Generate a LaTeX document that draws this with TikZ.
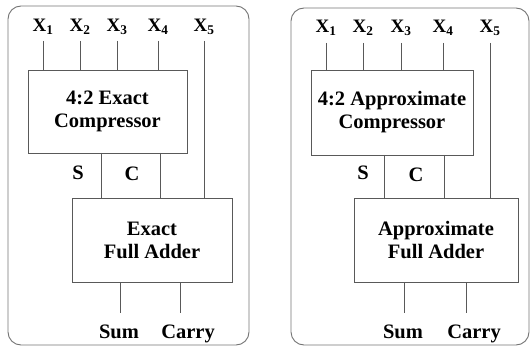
\documentclass[tikz,border=0pt]{standalone}
\usepackage{fontspec}
\setmainfont{Liberation Serif}
\begin{document}
\begin{tikzpicture}[x=1pt,y=-1pt,
  wire/.style={draw=black!65, line width=0.9pt},
  blk/.style={draw=black!65, line width=0.9pt, align=center, inner sep=0pt,
    font=\fontsize{20.5}{23}\selectfont\bfseries},
  lbl/.style={inner sep=0pt, anchor=base, font=\fontsize{20.5}{23}\selectfont\bfseries},
  xin/.style={inner sep=0pt, anchor=base, font=\fontsize{19}{23}\selectfont\bfseries},
  frame/.style={draw=black!55, line width=0.9pt, rounded corners=13pt}]
\useasboundingbox (0,0) rectangle (532,347);

% ---------- exact design ----------
\draw[frame] (8,6) rectangle (249,345);
\foreach \n/\x in {1/43,2/80,3/117,4/158,5/204}
  \node[xin] (a\n) at (\x,32) {X$_{\mathbf{\n}}$};
\node[blk, minimum width=159pt, minimum height=83pt] (acomp) at (107.5,111.5)
  {4:2 Exact\\Compressor};
\node[blk, minimum width=160pt, minimum height=84pt] (afa) at (152,240)
  {Exact\\Full Adder};
\coordinate (as) at (101,153);
\coordinate (ac) at (160,153);
\foreach \n in {1,2,3,4}
  \draw[wire] (a\n.center |- 0,41) -- (a\n.center |- acomp.north);
\draw[wire] (a5.center |- 0,41) -- (a5.center |- afa.north);
\draw[wire] (as) -- (as |- afa.north);
\draw[wire] (ac) -- (ac |- afa.north);
\node[lbl] (aslbl) at (78,180) {S};
\node[lbl] (aclbl) at (132,181) {C};
\node[lbl] (asum) at (119,338) {Sum};
\node[lbl] (acarry) at (188,338) {Carry};
\draw[wire] (afa.south -| 120,0) -- (120,313);
\draw[wire] (afa.south -| 180,0) -- (180,313);

% ---------- approximate design ----------
\draw[frame] (291,8) rectangle (529,345);
\foreach \n/\x in {1/326,2/363,3/401,4/443,5/490}
  \node[xin] (b\n) at (\x,33) {X$_{\mathbf{\n}}$};
\node[blk, minimum width=162pt, minimum height=85pt] (bcomp) at (392,112.5)
  {4:2 Approximate\\Compressor};
\node[blk, minimum width=164pt, minimum height=84pt] (bfa) at (436,240)
  {Approximate\\Full Adder};
\coordinate (bs) at (384,155);
\coordinate (bc) at (444,155);
\foreach \n in {1,2,3,4}
  \draw[wire] (b\n.center |- 0,43) -- (b\n.center |- bcomp.north);
\draw[wire] (b5.center |- 0,43) -- (b5.center |- bfa.north);
\draw[wire] (bs) -- (bs |- bfa.north);
\draw[wire] (bc) -- (bc |- bfa.north);
\node[lbl] (bslbl) at (363,180) {S};
\node[lbl] (bclbl) at (416,182) {C};
\node[lbl] (bsum) at (403,338) {Sum};
\node[lbl] (bcarry) at (474,338) {Carry};
\draw[wire] (bfa.south -| 404,0) -- (404,313);
\draw[wire] (bfa.south -| 466,0) -- (466,313);
\end{tikzpicture}
\end{document}
